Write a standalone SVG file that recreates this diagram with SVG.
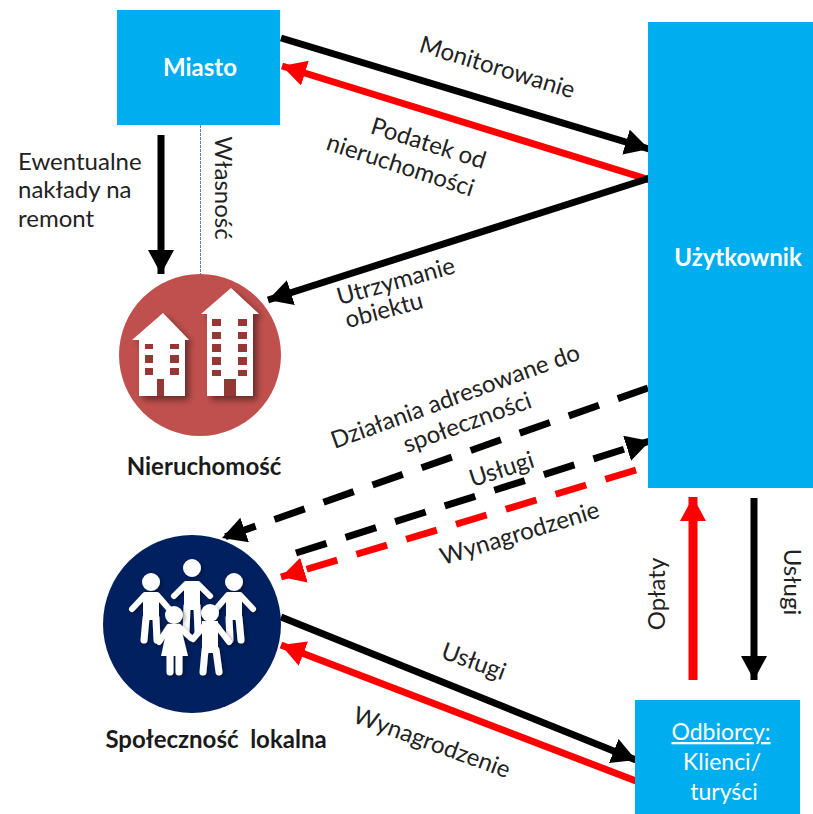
<svg xmlns="http://www.w3.org/2000/svg" width="813" height="814" viewBox="0 0 813 814">
<style>
text{font-family:"Lato","Open Sans","Liberation Sans",sans-serif;font-size:24px;fill:#222;text-anchor:middle}
.w{fill:#fff;font-weight:700;font-size:24px}
.wn{fill:#fff;font-size:23px}
.b{font-weight:700;font-size:24px;fill:#1a1a1a;white-space:pre}
.l{text-anchor:start}
.k{stroke:#000;stroke-width:7;fill:none}
.r{stroke:#f00;stroke-width:7;fill:none}
.rv{stroke-width:9}
.d{stroke-dasharray:32 20}
.box{fill:#00aeef}
.win{fill:#953735}
.p{stroke:#fff;fill:none;stroke-linecap:round;stroke-linejoin:round}
</style>
<defs>
<marker id="ak" markerUnits="userSpaceOnUse" markerWidth="28" markerHeight="28" refX="24" refY="13" orient="auto"><path d="M0 0L24 13L0 26z" fill="#000"/></marker>
<marker id="ar" markerUnits="userSpaceOnUse" markerWidth="28" markerHeight="28" refX="24" refY="13" orient="auto"><path d="M0 0L24 13L0 26z" fill="#f00"/></marker>
<filter id="sh" x="-20%" y="-20%" width="150%" height="150%"><feDropShadow dx="4" dy="4" stdDeviation="3" flood-color="#000" flood-opacity=".45"/></filter>
<filter id="sh2" x="-20%" y="-20%" width="140%" height="140%"><feDropShadow dx="2" dy="2" stdDeviation="2" flood-color="#000" flood-opacity=".4"/></filter>
</defs>

<g id="connectors">
<path class="k" d="M281 38L649 149" marker-end="url(#ak)"/>
<path class="r" d="M650 180L282 66" marker-end="url(#ar)"/>
<path class="k" d="M650 178L268 300" marker-end="url(#ak)"/>
<path class="k" d="M161 135V274" marker-end="url(#ak)"/>
<path d="M200.500 125V275" stroke="#4f81bd" stroke-width="1" stroke-dasharray="3 1" fill="none"/>
<path class="k d" d="M648 388L222 538" marker-end="url(#ak)"/>
<path class="k d" d="M296 553L650 441" marker-end="url(#ak)"/>
<path class="r d" d="M636 470L281 577" marker-end="url(#ar)"/>
<path class="k" d="M281 617L636 760" marker-end="url(#ak)"/>
<path class="r" d="M636 781L281 645" marker-end="url(#ar)"/>
<path class="r rv" d="M693 680V497" marker-end="url(#ar)"/>
<path class="k" d="M754 498V680" marker-end="url(#ak)"/>
</g>

<g id="miasto"><rect class="box" x="117" y="10" width="163" height="115"/><text class="w" x="200" y="76">Miasto</text></g>
<g id="uzytkownik"><rect class="box" x="648" y="22" width="165" height="466"/><text class="w" x="738" y="266">Użytkownik</text></g>
<g id="odbiorcy"><rect class="box" x="635" y="700" width="165" height="114"/>
<text class="wn" x="721" y="740" text-decoration="underline">Odbiorcy:</text>
<text class="wn" x="722" y="770">Klienci/</text>
<text class="wn" x="724" y="800">turyści</text></g>

<g id="nieruchomosc">
<circle cx="200" cy="355" r="81" fill="#c0504d"/>
<g filter="url(#sh)" fill="#fff">
<path d="M163 313L189 340H185V396H139V340H132z"/>
<path d="M231 288L259 314H253V396H207V314H201z"/>
</g>
<g class="win">
<rect x="145" y="344" width="8" height="5"/><rect x="170" y="344" width="9" height="5"/>
<rect x="145" y="355" width="8" height="8"/><rect x="170" y="355" width="9" height="8"/>
<rect x="145" y="368" width="8" height="7"/><rect x="170" y="368" width="9" height="7"/>
<rect x="157" y="379" width="7" height="17"/>
<rect x="212" y="319" width="9" height="7"/><rect x="238" y="319" width="9" height="7"/>
<rect x="212" y="332" width="9" height="7"/><rect x="238" y="332" width="9" height="7"/>
<rect x="212" y="344" width="9" height="8"/><rect x="238" y="344" width="9" height="8"/>
<rect x="212" y="357" width="9" height="8"/><rect x="238" y="357" width="9" height="8"/>
<rect x="212" y="370" width="9" height="6"/><rect x="238" y="370" width="9" height="6"/>
<rect x="224" y="379" width="12" height="17"/>
</g>
<text class="b" x="204" y="475">Nieruchomość</text>
</g>

<g id="spolecznosc">
<circle cx="192" cy="624" r="89" fill="#002060"/>
<g filter="url(#sh2)" fill="#fff">
<g class="p">
<circle cx="192" cy="568" r="8" fill="#fff" stroke-width="2"/>
<path d="M174 596L186 584H198L210 596" stroke-width="6"/>
<path d="M192 582V610" stroke-width="16" stroke-linecap="butt"/>
<path d="M187 606L186 632M197 606L198 632" stroke-width="7"/>
<circle cx="151" cy="582" r="8" fill="#fff" stroke-width="2"/>
<path d="M132 609L145 595H157L170 610" stroke-width="6"/>
<path d="M151 594V620" stroke-width="16" stroke-linecap="butt"/>
<path d="M146 618L144 640M156 618L157 640" stroke-width="7"/>
<circle cx="234" cy="582" r="8" fill="#fff" stroke-width="2"/>
<path d="M253 609L240 595H228L215 610" stroke-width="6"/>
<path d="M234 594V620" stroke-width="16" stroke-linecap="butt"/>
<path d="M229 618L230 640M239 618L241 640" stroke-width="7"/>
</g>
</g>
<g filter="url(#sh2)" fill="#fff">
<circle cx="174" cy="615" r="9"/>
<path d="M168 624H180L188 656H161z"/>
<path class="p" d="M159 642L169 627M179 627L191 638" stroke-width="6"/>
<path class="p" d="M170 655V672M179 655V672" stroke-width="7"/>
<circle cx="210" cy="613" r="9"/>
<rect x="202" y="621" width="16" height="32"/>
<path class="p" d="M193 639L204 626M217 626L229 642" stroke-width="6"/>
<path class="p" d="M205 650L203 672M216 650L219 672" stroke-width="7"/>
</g>
<text class="b" x="216" y="748">Społeczność  lokalna</text>
</g>

<g id="labels">
<text transform="translate(495 75) rotate(17)">Monitorowanie</text>
<text transform="translate(426 151) rotate(17.500)">Podatek od</text>
<text transform="translate(398 173) rotate(18)">nieruchomości</text>
<text class="l" x="18" y="170">Ewentualne</text>
<text class="l" x="18" y="198">nakłady na</text>
<text class="l" x="18" y="227">remont</text>
<text transform="translate(215 188) rotate(90)">Własność</text>
<text transform="translate(398 289) rotate(-15.500)">Utrzymanie</text>
<text transform="translate(386 318) rotate(-15)">obiektu</text>
<text transform="translate(458 404) rotate(-20)">Działania adresowane do</text>
<text transform="translate(470 430) rotate(-20)">społeczności</text>
<text transform="translate(504 477) rotate(-18)">Usługi</text>
<text transform="translate(522 541) rotate(-17)">Wynagrodzenie</text>
<text transform="translate(471 669) rotate(20)">Usługi</text>
<text transform="translate(429 750) rotate(20)">Wynagrodzenie</text>
<text transform="translate(665 594) rotate(-90)">Opłaty</text>
<text transform="translate(784 582) rotate(90)">Usługi</text>
</g>
</svg>
